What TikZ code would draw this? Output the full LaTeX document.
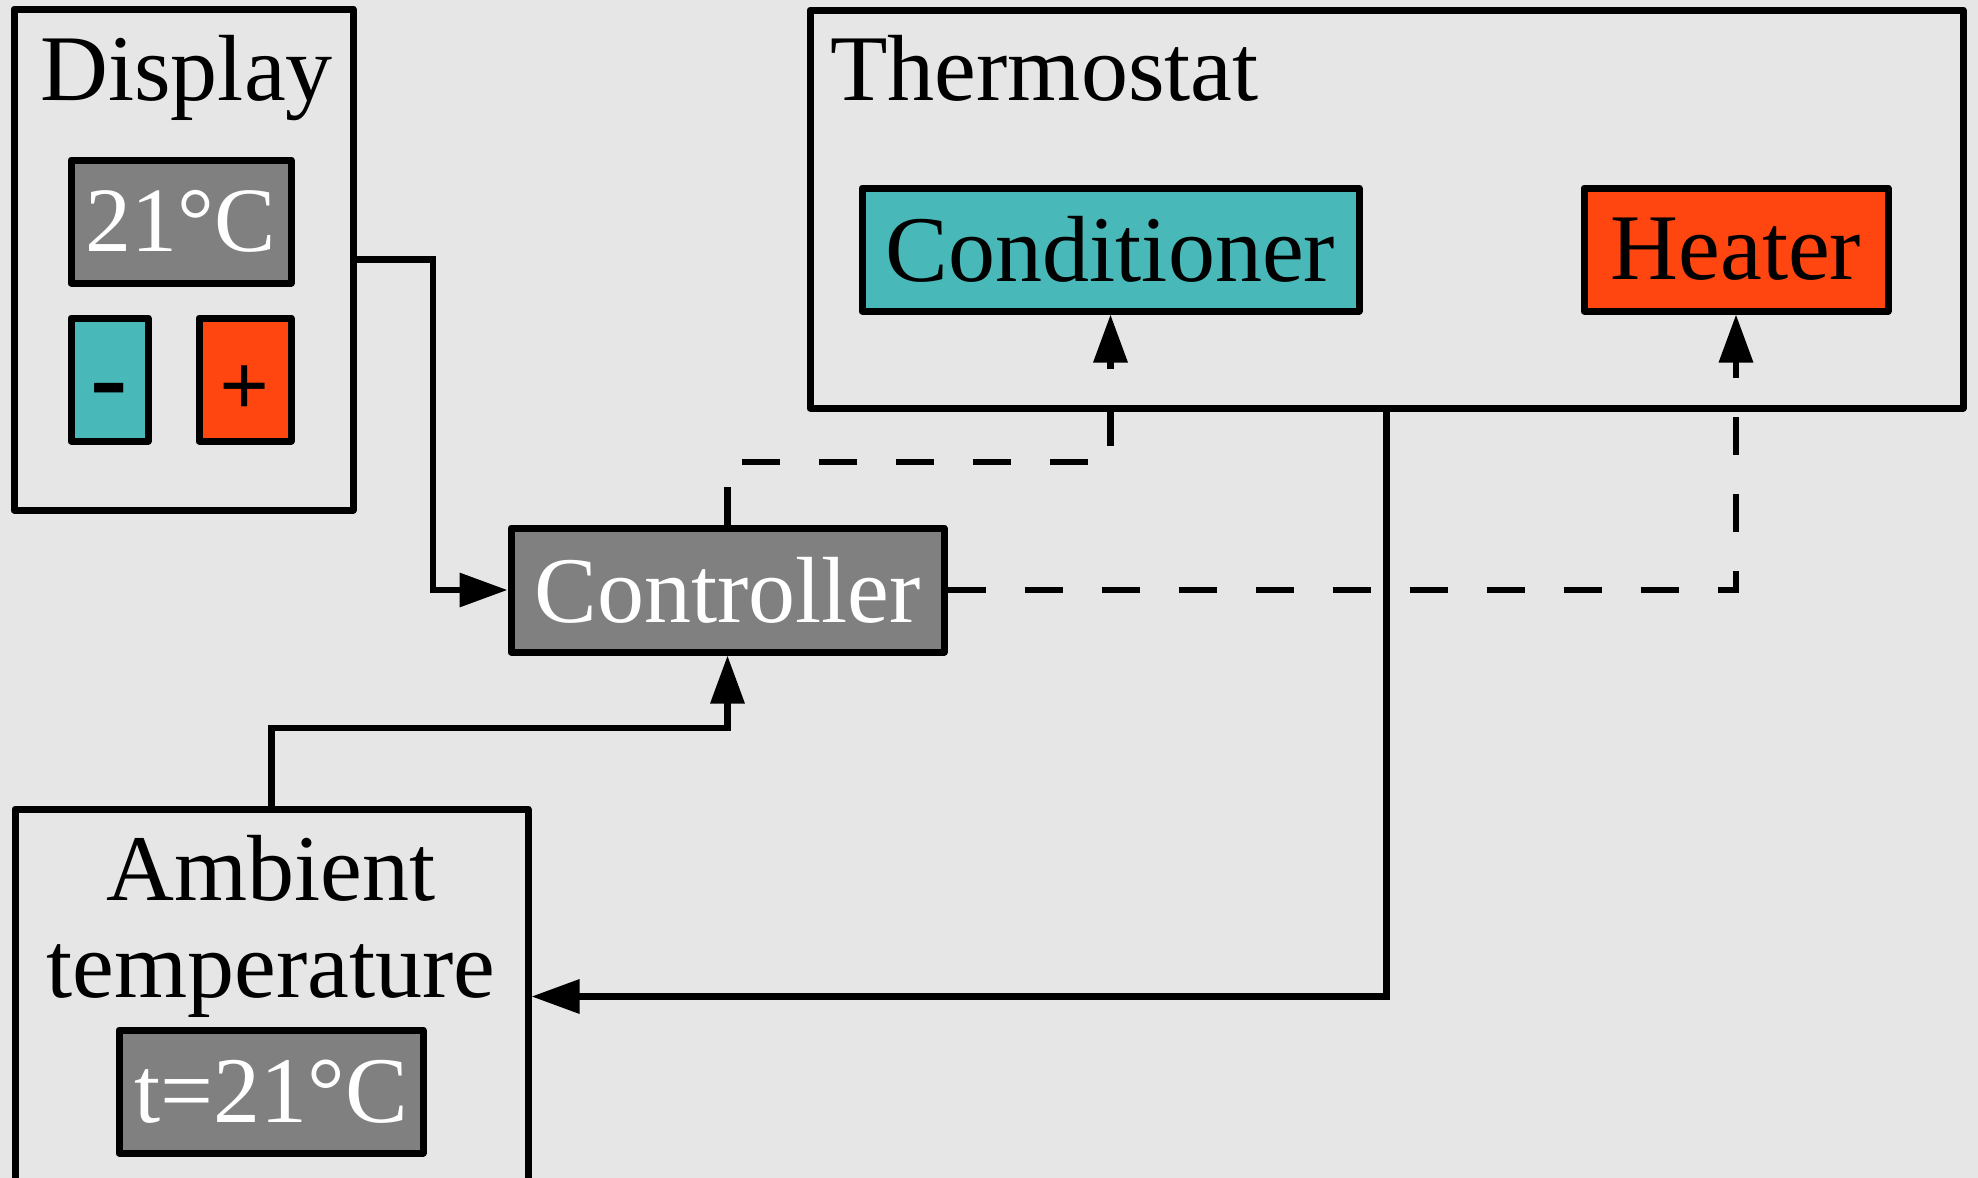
\documentclass[tikz,border=0pt]{standalone}
\usepackage{fontspec}
\setmainfont{Liberation Serif}
\usetikzlibrary{arrows.meta}
\definecolor{bg}{HTML}{E6E6E6}
\definecolor{midgray}{HTML}{808080}
\definecolor{coolc}{HTML}{48B9B8}
\definecolor{hotc}{HTML}{FF4510}
\begin{document}
\begin{tikzpicture}[x=0.5pt,y=-0.5pt,
  box/.style={draw=black, line width=3.5pt, line join=round, rectangle, inner sep=0pt, font=\fontsize{47}{56}\selectfont},
  panel/.style={box, fill=bg},
  grey/.style={box, fill=midgray, text=white},
  cool/.style={box, fill=coolc},
  hot/.style={box, fill=hotc},
  title/.style={anchor=base west, inner sep=0pt, font=\fontsize{47}{56}\selectfont},
  conn/.style={draw=black, line width=3.25pt, line join=miter, -{Triangle[length=24pt,width=16.5pt]}},
  dashconn/.style={conn, dash pattern=on 19pt off 19.5pt}
]
\fill[bg] (0,0) rectangle (1978,1178);
\useasboundingbox (0,0) rectangle (1978,1178);

% Display panel
\node[panel, minimum width=169.5pt, minimum height=250.5pt] (display) at (183.5,259.5) {};
\node[title] (displaytitle) at (40,100) {Display};
\node[grey, minimum width=110pt, minimum height=61.5pt, font=\fontsize{46}{54}\selectfont] (disptemp) at (181,221.5) {21°C};
\node[cool, minimum width=38.5pt, minimum height=61.5pt] (minus) at (109.5,379.5) {};
\node[anchor=base, inner sep=0pt, font=\fontsize{56}{60}\selectfont\bfseries] (minustext) at (109.5,414) {-};
\node[hot, minimum width=46pt, minimum height=61.5pt] (plus) at (245,379.5) {};
\node[inner sep=0pt, font=\fontsize{44}{50}\selectfont\bfseries] (plustext) at (245,391) {+};

% Thermostat panel
\node[panel, minimum width=576.5pt, minimum height=199pt] (thermo) at (1386.5,209) {};
\node[title] (thermotitle) at (830,100) {Thermostat};
\node[cool, minimum width=248.5pt, minimum height=61.5pt] (cond) at (1110.5,249.5) {Conditioner};
\node[hot, minimum width=152pt, minimum height=61.5pt] (heater) at (1736,249.5) {Heater};

% Controller
\node[grey, minimum width=216.5pt, minimum height=62pt] (ctrl) at (727.5,590) {Controller};

% Ambient panel
\node[panel, minimum width=256.5pt, minimum height=187.5pt] (ambient) at (271.5,996.5) {};
\node[anchor=base, inner sep=0pt, font=\fontsize{47}{56}\selectfont] (amb1) at (271,900) {Ambient};
\node[anchor=base, inner sep=0pt, font=\fontsize{47}{56}\selectfont] (amb2) at (271,997) {temperature};
\node[grey, minimum width=152pt, minimum height=61.5pt] (tbox) at (271,1091.5) {t=21°C};

% helper coordinates
\coordinate (j1) at (433,0);
\coordinate (j2) at (727.5,728);
\coordinate (j4) at (1110.5,462);

% connectors
\draw[conn] (display.east) -| (j1 |- ctrl.west) -- (ctrl.west);
\draw[conn] (ambient.north) |- (j2) -- (ctrl.south);
\draw[conn] (thermo.south) |- (ambient.east);
\draw[dashconn] (ctrl.north) |- (j4) -- (cond.south);
\draw[dashconn] (ctrl.east) -| (heater.south);
\end{tikzpicture}
\end{document}
